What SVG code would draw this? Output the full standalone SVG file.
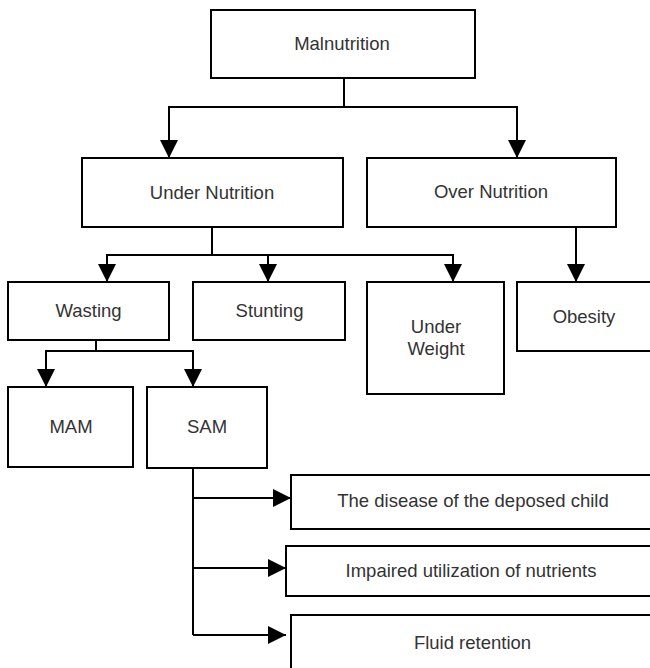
<svg xmlns="http://www.w3.org/2000/svg" width="650" height="668" viewBox="0 0 650 668">
<defs>
<style>
.box{fill:#fff;stroke:#000;stroke-width:2}
.lbl{font-family:"Liberation Sans",Arial,sans-serif;font-size:18.5px;fill:#333;text-anchor:middle}
.ln{fill:none;stroke:#000;stroke-width:2}
.arr{marker-end:url(#ah)}
</style>
<marker id="ah" markerUnits="userSpaceOnUse" markerWidth="18" markerHeight="18" refX="18" refY="9" orient="auto" viewBox="0 0 18 18">
<path d="M0,0 L18,9 L0,18 z" fill="#000"/>
</marker>
</defs>
<rect width="650" height="668" fill="#fff"/>
<g id="connectors">
<path class="ln" d="M344,78 V107"/>
<path class="ln arr" d="M344,107 H169 V158"/>
<path class="ln arr" d="M344,107 H517 V158"/>
<path class="ln" d="M212,227 V255"/>
<path class="ln arr" d="M212,255 H107 V282"/>
<path class="ln arr" d="M212,255 H268 V282"/>
<path class="ln arr" d="M212,255 H453 V282"/>
<path class="ln arr" d="M576,227 V282"/>
<path class="ln" d="M96,340 V351"/>
<path class="ln arr" d="M96,351 H46 V387"/>
<path class="ln arr" d="M96,351 H193 V387"/>
<path class="ln" d="M193,468 V635"/>
<path class="ln arr" d="M193,498 H291"/>
<path class="ln arr" d="M193,568 H286"/>
<path class="ln arr" d="M193,635 H286"/>
</g>
<g id="malnutrition"><rect class="box" x="211" y="10" width="264" height="68"/><text class="lbl" x="342" y="49.5">Malnutrition</text></g>
<g id="under-nutrition"><rect class="box" x="82" y="158" width="261" height="69"/><text class="lbl" x="212" y="198.5">Under Nutrition</text></g>
<g id="over-nutrition"><rect class="box" x="367" y="158" width="249" height="69"/><text class="lbl" x="491" y="197.5">Over Nutrition</text></g>
<g id="wasting"><rect class="box" x="8" y="282" width="161" height="58"/><text class="lbl" x="88.5" y="316.5">Wasting</text></g>
<g id="stunting"><rect class="box" x="193" y="282" width="152" height="58"/><text class="lbl" x="269.5" y="316.5">Stunting</text></g>
<g id="under-weight"><rect class="box" x="367" y="282" width="137" height="112"/><text class="lbl" x="436" y="333">Under</text><text class="lbl" x="436" y="355">Weight</text></g>
<g id="obesity"><rect class="box" x="517" y="282" width="150" height="69"/><text class="lbl" x="584" y="322.5">Obesity</text></g>
<g id="mam"><rect class="box" x="8" y="387" width="125" height="80"/><text class="lbl" x="71" y="433">MAM</text></g>
<g id="sam"><rect class="box" x="147" y="387" width="120" height="81"/><text class="lbl" x="207" y="433">SAM</text></g>
<g id="disease"><rect class="box" x="291" y="475" width="380" height="54"/><text class="lbl" x="473" y="507">The disease of the deposed child</text></g>
<g id="impaired"><rect class="box" x="286" y="546" width="380" height="50"/><text class="lbl" x="471" y="576.5">Impaired utilization of nutrients</text></g>
<g id="fluid"><rect class="box" x="291" y="615" width="380" height="70"/><text class="lbl" x="472.5" y="649">Fluid retention</text></g>
</svg>
